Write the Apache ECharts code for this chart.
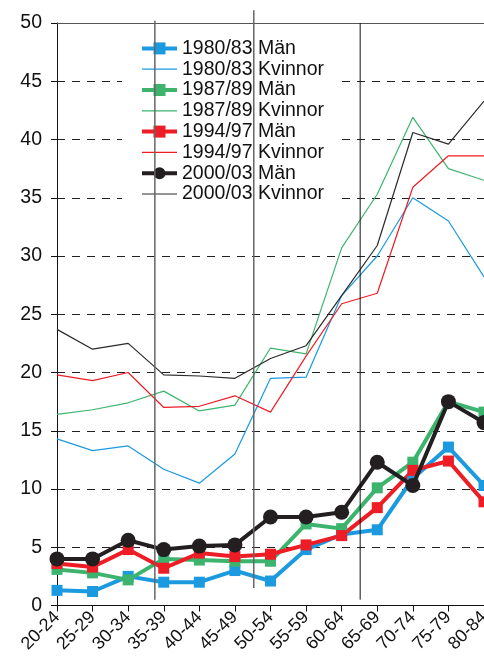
<!DOCTYPE html>
<html>
<head>
<meta charset="utf-8">
<script src="https://cdn.jsdelivr.net/npm/echarts@6/dist/echarts.min.js"></script>
<style>
  html, body { margin: 0; padding: 0; background: #fff; }
  #chart { width: 484px; height: 669px; }
</style>
</head>
<body>
<div id="chart"></div>
<script>
/* Age groups and rates */
const categories = ['20-24', '25-29', '30-34', '35-39', '40-44', '45-49', '50-54', '55-59', '60-64', '65-69', '70-74', '75-79', '80-84'];

const man8083 = [1.3, 1.2, 2.5, 2.0, 2.0, 3.0, 2.1, 4.8, 6.1, 6.5, 10.9, 13.6, 10.3];
const kv8083  = [14.3, 13.3, 13.7, 11.7, 10.5, 13.0, 19.5, 19.6, 26.6, 30.0, 35.0, 33.0, 28.2];
const man8789 = [3.1, 2.8, 2.2, 4.0, 3.9, 3.8, 3.8, 7.0, 6.6, 10.1, 12.3, 17.5, 16.6];
const kv8789  = [16.4, 16.8, 17.4, 18.4, 16.7, 17.2, 22.1, 21.6, 30.7, 35.3, 41.9, 37.5, 36.5];
const man9497 = [3.6, 3.3, 4.8, 3.2, 4.5, 4.2, 4.4, 5.2, 6.0, 8.4, 11.6, 12.4, 8.9];
const kv9497  = [19.8, 19.3, 20.0, 17.0, 17.1, 18.0, 16.6, 21.4, 25.9, 26.8, 35.9, 38.6, 38.6];
const man0003 = [4.0, 4.0, 5.6, 4.8, 5.1, 5.2, 7.6, 7.6, 8.0, 12.3, 10.3, 17.5, 15.7];
const kv0003  = [23.7, 22.0, 22.5, 19.8, 19.7, 19.5, 21.2, 22.3, 26.6, 30.9, 40.6, 39.6, 43.3];

const yTicks = [0, 5, 10, 15, 20, 25, 30, 35, 40, 45, 50];

/* separator lines: [category position, top value, bottom value, colour, width] */
const separators = [
    [2.75, 50.2, 0.5, '#666', 1.5],
    [5.53, 51.1, 1.5, '#666', 1.5],
    [8.52, 50.0, 0.5, '#111', 1],
];

const font = "'Liberation Sans', Arial, sans-serif";
const BLUE = '#1b9ae0', GREEN = '#3db46d', RED = '#ee1c25', BLACK = '#231f20';

let chartDom = document.getElementById('chart');
let myChart = echarts.init(chartDom);

function men(name, data, color, symbol, size, z) {
    return {
        name: name, type: 'line', data: data, z: z,
        symbol: symbol, symbolSize: size,
        lineStyle: { color: color, width: 4 },
        itemStyle: { color: color },
        emphasis: { disabled: true },
        clip: false,
    };
}
function women(name, data, color) {
    return {
        name: name, type: 'line', data: data, z: 2,
        symbol: 'none',
        lineStyle: { color: color, width: 1.2 },
        itemStyle: { color: color },
        emphasis: { disabled: true },
        clip: false,
    };
}
// legend entries: thick line with marker, or thin line alone
function thick(name) {
    return { name: name, lineStyle: { width: 4 } };
}
function thin(name) {
    return { name: name, itemStyle: { opacity: 0 }, lineStyle: { width: 1.2 } };
}

let option = {
    animation: false,
    grid: { left: 57, right: 0, top: 23, bottom: 63.5, outerBoundsMode: 'none' },
    legend: {
        orient: 'vertical',
        left: 122, top: 33,
        padding: [5, 15, 6, 18],
        backgroundColor: '#fff',
        itemWidth: 35, itemHeight: 15, itemGap: 0,
        textStyle: { fontFamily: font, fontSize: 19.5, color: '#111', lineHeight: 20.8 },
        data: [thick('1980/83 Män'), thin('1980/83 Kvinnor'), thick('1987/89 Män'), thin('1987/89 Kvinnor'),
               thick('1994/97 Män'), thin('1994/97 Kvinnor'), thick('2000/03 Män'), thin('2000/03 Kvinnor')],
        z: 5,
    },
    xAxis: [{
        type: 'category', data: categories, boundaryGap: false,
        axisLine: { lineStyle: { color: '#111', width: 1 } },
        axisTick: { show: true, length: 6, lineStyle: { color: '#111' } },
        axisLabel: { rotate: 45, fontFamily: font, fontSize: 18, color: '#111', margin: 9, interval: 0 },
        splitLine: { show: false },
    }, {
        type: 'category', data: categories, boundaryGap: false, position: 'top',
        axisLine: { lineStyle: { color: '#555', width: 1 } },
        axisTick: { show: false }, axisLabel: { show: false },
    }],
    yAxis: {
        type: 'value', min: 0, max: 50, interval: 5,
        axisLine: { show: true, lineStyle: { color: '#111', width: 1 } },
        axisTick: { show: true, length: 6, lineStyle: { color: '#111' } },
        axisLabel: {
            fontFamily: font, fontSize: 19.5, color: '#111', margin: 15,
            formatter: v => yTicks.indexOf(v) >= 0 ? String(v) : '',
        },
        splitLine: { show: true, lineStyle: { color: '#222', type: [8, 7], width: 1 } },
    },
    series: [
        men('1980/83 Män', man8083, BLUE, 'rect', 11, 3),
        women('1980/83 Kvinnor', kv8083, BLUE),
        men('1987/89 Män', man8789, GREEN, 'rect', 11, 3),
        women('1987/89 Kvinnor', kv8789, GREEN),
        men('1994/97 Män', man9497, RED, 'rect', 11, 3),
        women('1994/97 Kvinnor', kv9497, RED),
        men('2000/03 Män', man0003, BLACK, 'circle', 15, 4),
        women('2000/03 Kvinnor', kv0003, '#2a2a2a'),
    ],
};

option && myChart.setOption(option);

/* vertical separators, placed through the axes */
function px(pos, val) {
    let i = Math.floor(pos), f = pos - i;
    let a = myChart.convertToPixel({ xAxisIndex: 0, yAxisIndex: 0 }, [i, val]);
    let b = myChart.convertToPixel({ xAxisIndex: 0, yAxisIndex: 0 }, [i + 1, val]);
    return [a[0] + (b[0] - a[0]) * f, a[1]];
}

myChart.setOption({
    graphic: separators.map(s => {
        let p1 = px(s[0], s[1]), p2 = px(s[0], s[2]);
        return {
            type: 'line', z: 100, silent: true,
            shape: { x1: p1[0], y1: p1[1], x2: p2[0], y2: p2[1] },
            style: { stroke: s[3], lineWidth: s[4] },
        };
    }),
});

window.addEventListener('resize', () => {
    myChart.resize();
});
</script>
</body>
</html>
